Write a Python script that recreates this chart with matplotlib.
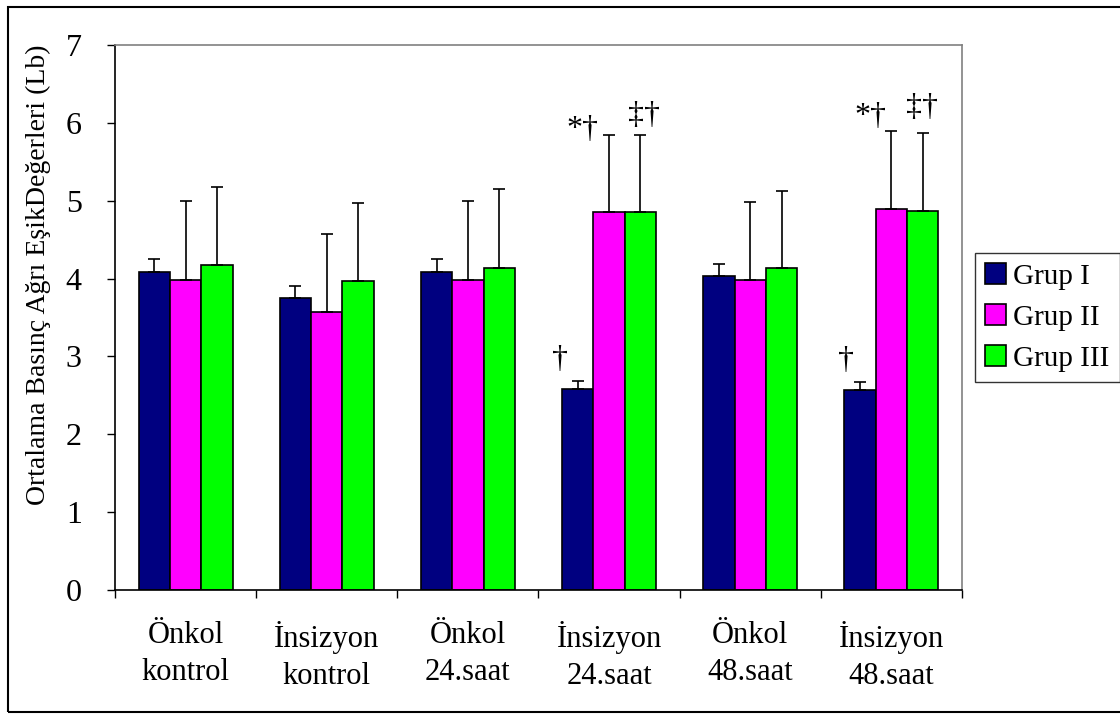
import matplotlib
matplotlib.use("Agg")
import matplotlib.pyplot as plt
import matplotlib.patches as patches
import numpy as np

plt.rcParams['font.family'] = ['Liberation Serif', 'DejaVu Serif']

categories = ["Önkol\nkontrol", "İnsizyon\nkontrol", "Önkol\n24.saat",
              "İnsizyon\n24.saat", "Önkol\n48.saat", "İnsizyon\n48.saat"]
series_names = ["Grup I", "Grup II", "Grup III"]
grup1 = [4.09, 3.75, 4.09, 2.58, 4.03, 2.57]
grup2 = [3.98, 3.57, 3.98, 4.85, 3.98, 4.89]
grup3 = [4.18, 3.97, 4.14, 4.85, 4.13, 4.87]
err1 = [0.16, 0.15, 0.16, 0.10, 0.16, 0.10]
err2 = [1.01, 1.00, 1.01, 1.00, 1.00, 1.00]
err3 = [1.00, 1.00, 1.01, 1.00, 1.00, 1.00]
colors = ["#000080", "#FF00FF", "#00FF00"]

# significance marks: (x position in category units, y value, text)
marks_x = [2.65, 2.81, 3.25, 4.68, 4.85, 5.22]
marks_y = [2.96, 5.92, 6.09, 2.95, 6.08, 6.20]
marks_txt = ["†", "*†", "‡†", "†", "*†", "‡†"]

fig = plt.figure(figsize=(11.2, 7.14), dpi=100)
W, H = 1120, 714
ax = fig.add_axes([115 / W, 1 - 590 / H, (962 - 115) / W, (590 - 45) / H])

x = np.arange(len(categories))
bw = 0.222
for k, (vals, errs) in enumerate(zip([grup1, grup2, grup3], [err1, err2, err3])):
    pos = x + (k - 1) * bw
    ax.bar(pos, vals, width=bw, color=colors[k], edgecolor="black",
           linewidth=1.2, label=series_names[k], zorder=2)
    ax.errorbar(pos, vals, yerr=[np.zeros(len(vals)), errs], fmt="none",
                ecolor="black", elinewidth=1.2, capsize=4, capthick=1.2, zorder=3)

for mx, my, mt in zip(marks_x, marks_y, marks_txt):
    ax.text(mx, my, mt, fontsize=23, ha="center", va="center")

ax.set_xlim(-0.5, len(categories) - 0.5)
ax.set_ylim(0, 7)
ax.set_yticks(range(0, 8))
ax.set_xticks(x)
ax.set_xticklabels(categories, fontsize=22, linespacing=1.4)
ax.set_xticks(np.arange(-0.5, len(categories)), minor=True)
ax.tick_params(axis="x", which="major", length=0, pad=22)
ax.tick_params(axis="x", which="minor", length=6, width=1, direction="out")
ax.tick_params(axis="y", length=6, width=1, direction="out", pad=18, labelsize=23)

for s in ["top", "right"]:
    ax.spines[s].set_color("#808080")
    ax.spines[s].set_linewidth(1.2)
for s in ["left", "bottom"]:
    ax.spines[s].set_color("black")
    ax.spines[s].set_linewidth(1.2)

fig.text(38 / W, 1 - 275 / H, "Ortalama Basınç Ağrı EşikDeğerleri (Lb)",
         rotation=90, ha="center", va="center", fontsize=20)

leg = ax.legend(loc="upper left", bbox_to_anchor=(975 / W, 1 - 253 / H),
                bbox_transform=fig.transFigure, fontsize=21, frameon=True,
                fancybox=False, borderaxespad=0, handlelength=0.7,
                handleheight=0.7, handletextpad=0.25, labelspacing=0.5,
                borderpad=0.35)
leg.get_frame().set_edgecolor("black")
leg.get_frame().set_linewidth(1)

border = patches.Rectangle((8 / W, 1 - 712 / H), 1.1, (712 - 7) / H,
                           transform=fig.transFigure, fill=False,
                           edgecolor="black", linewidth=1.5, clip_on=False)
fig.patches.append(border)

fig.savefig("out.png", dpi=100)
